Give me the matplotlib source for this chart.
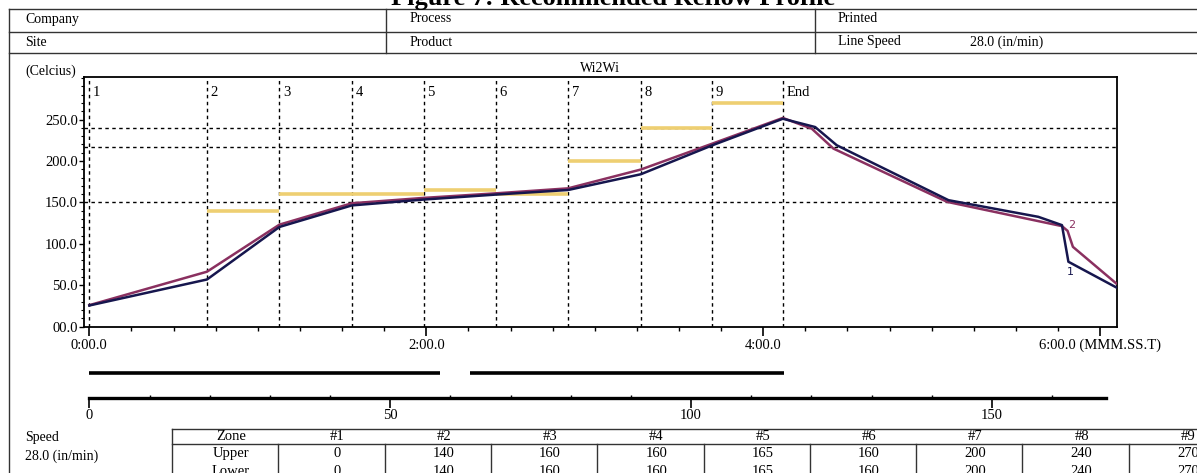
import matplotlib
matplotlib.use("Agg")
import matplotlib.pyplot as plt
from matplotlib.lines import Line2D
from matplotlib.ticker import FixedLocator, MultipleLocator, FuncFormatter

# ---------------------------------------------------------------------------
# Reflow oven profile data
# ---------------------------------------------------------------------------
zone_names = ["1", "2", "3", "4", "5", "6", "7", "8", "9", "End"]
zone_start_s = [0, 41.9, 67.7, 93.5, 119.2, 144.9, 170.5, 196.4, 221.9, 247.0]
upper_sp = [0, 140, 160, 160, 165, 160, 200, 240, 270]
lower_sp = [0, 140, 160, 160, 165, 160, 200, 240, 270]
limit_lines = [150, 217, 240]

# probe 1 (dark blue) and probe 2 (maroon): time in s, temperature in C
t1 = [0, 41.9, 67.7, 93.5, 119.2, 144.9, 170.5, 196.4, 221.9, 247.0,
      258.5, 266.2, 306.0, 338.0, 346.4, 348.7, 365.7]
T1 = [25.6, 57, 120.4, 146.4, 153.5, 159.5, 165, 184, 219, 251,
      241, 219, 152.7, 132.6, 122.6, 78.4, 47.5]
t2 = [0, 41.9, 67.7, 93.5, 119.2, 144.9, 170.5, 196.4, 221.9, 247.0,
      257.3, 265.0, 305.5, 346.4, 348.4, 350.3, 365.7]
T2 = [26, 66.4, 123.2, 149, 155.5, 161, 167, 189.7, 221, 252,
      239, 215, 150.7, 121.4, 115.7, 96.4, 52.3]

line_speed = 28.0  # in/min
heater_start_in = [0, 63.3]
heater_end_in = [58.2, 115.5]
belt_end_in = 169

table_cols = ["Zone", "#1", "#2", "#3", "#4", "#5", "#6", "#7", "#8", "#9"]

W, H = 1197, 473
NAVY = "#16164e"
MAROON = "#8a3060"
GOLD = "#eecf72"
LINE = "#333333"

plt.rcParams["font.family"] = ["Liberation Serif", "DejaVu Serif"]

fig = plt.figure(figsize=(W / 100, H / 100), dpi=100)


def hline(y, x0, x1, **kw):
    fig.add_artist(Line2D([x0 / W, x1 / W], [1 - y / H, 1 - y / H],
                          color=LINE, lw=1, **kw))


def vline(x, y0, y1, **kw):
    fig.add_artist(Line2D([x / W, x / W], [1 - y0 / H, 1 - y1 / H],
                          color=LINE, lw=1, **kw))


def ftext(x, y, s, **kw):
    kw.setdefault("fontsize", 10)
    kw.setdefault("va", "center")
    fig.text(x / W, 1 - y / H, s, **kw)


# title (clipped at the top edge in the original print)
ftext(613, 5, "Figure 7: Recommended Reflow Profile", va="baseline",
      ha="center", fontsize=19, fontweight="bold")

# header box
for y in (9, 32, 53):
    hline(y, 9, W)
vline(9, 9, H)
vline(386, 9, 53)
vline(815, 9, 53)
ftext(25, 19, "Company")
ftext(25, 42, "Site")
ftext(410, 19, "Process")
ftext(410, 42, "Product")
ftext(838, 19, "Printed")
ftext(838, 42, "Line Speed")
ftext(970, 42, f"{line_speed:.1f} (in/min)")
ftext(25, 71, "(Celcius)")
ftext(600, 68, "Wi2Wi", ha="center")

# ---------------------------------------------------------------------------
# main temperature plot
# ---------------------------------------------------------------------------
x0, x1, y_top, y_bot = 84.3, 1116.7, 76.5, 326.7
ax = fig.add_axes([x0 / W, 1 - y_bot / H, (x1 - x0) / W, (y_bot - y_top) / H])
ax.set_xlim(-1.8, 365.9)
ax.set_ylim(0, 302)

dash = (0, (2.5, 2.5))
for t in zone_start_s:
    ax.axvline(t, color="k", lw=1, ls=dash, zorder=1)
for v in limit_lines:
    ax.axhline(v, color="k", lw=1, ls=dash, zorder=1)

for i, sp in enumerate(upper_sp):
    if sp > 0:
        ax.hlines(sp, zone_start_s[i], zone_start_s[i + 1], color=GOLD,
                  lw=2.6, zorder=2)

ax.plot(t2, T2, color=MAROON, lw=1.8, zorder=3)
ax.plot(t1, T1, color=NAVY, lw=1.8, zorder=4)
ax.text(349.5, 66, "1", color=NAVY, fontsize=8, ha="center", va="center",
        family="DejaVu Sans")
ax.text(349.8, 123, "2", color=MAROON, fontsize=8, ha="center", va="center",
        family="DejaVu Sans")

for t, name in zip(zone_start_s, zone_names):
    ax.annotate(name, xy=(t, 1), xycoords=ax.get_xaxis_transform(),
                xytext=(2.5, -11.7), textcoords="offset points",
                ha="left", va="center", fontsize=10.5)


def fmt_time(v, _):
    s = f"{int(v) // 60}:{v % 60:04.1f}"
    return s + " (MMM.SS.T)" if v == 360 else s


ax.xaxis.set_major_locator(FixedLocator([0, 120, 240, 360]))
ax.xaxis.set_minor_locator(MultipleLocator(15))
ax.xaxis.set_major_formatter(FuncFormatter(fmt_time))
ax.yaxis.set_major_locator(FixedLocator([0, 50, 100, 150, 200, 250]))
ax.yaxis.set_minor_locator(MultipleLocator(10))
ax.yaxis.set_major_formatter(FuncFormatter(lambda v, _: f"{v:04.1f}"))
ax.tick_params(axis="x", which="major", length=6.5, width=1.2, pad=2,
               labelsize=10.5)
ax.tick_params(axis="x", which="minor", length=3, width=1)
ax.tick_params(axis="y", which="major", length=3.6, width=1, pad=1,
               labelsize=10.5)
ax.tick_params(axis="y", which="minor", length=2, width=0.8)
for sp in ax.spines.values():
    sp.set_linewidth(1.3)

# ---------------------------------------------------------------------------
# conveyor distance axis (inches)
# ---------------------------------------------------------------------------
d_top, d_bot = 365, 397.5
axd = fig.add_axes([x0 / W, 1 - d_bot / H, (x1 - x0) / W, (d_bot - d_top) / H])
sec_to_in = line_speed / 60.0
axd.set_xlim(-1.8 * sec_to_in, 365.9 * sec_to_in)
axd.set_ylim(0, 1)
axd.hlines([0.75] * len(heater_start_in), heater_start_in, heater_end_in,
           color="k", lw=2.6)
for side in ("top", "left", "right"):
    axd.spines[side].set_visible(False)
axd.spines["bottom"].set_bounds(0, belt_end_in)
axd.spines["bottom"].set_linewidth(2.4)
axd.set_yticks([])
axd.xaxis.set_major_locator(FixedLocator([0, 50, 100, 150]))
axd.xaxis.set_minor_locator(FixedLocator(list(range(0, belt_end_in, 10))))
axd.xaxis.set_major_formatter(FuncFormatter(lambda v, _: f"{v:g}"))
axd.tick_params(axis="x", which="major", length=7, width=1.2, pad=1.5,
                labelsize=10.5)
axd.tick_params(axis="x", which="minor", length=2.5, width=1, direction="in")
axd.patch.set_visible(False)

# ---------------------------------------------------------------------------
# zone set-point table
# ---------------------------------------------------------------------------
tl, cw, t_top, t_sep = 172, 106.3, 429, 444
ftext(25, 437, "Speed")
ftext(25, 456, f"{line_speed:.1f} (in/min)")
hline(t_top, tl, W)
hline(t_sep, tl, W)
vline(tl, t_top, H)
for i in range(1, len(table_cols)):
    vline(tl + i * cw, t_sep, H)
rows = [table_cols, ["Upper"] + [str(v) for v in upper_sp],
        ["Lower"] + [str(v) for v in lower_sp]]
for row, y in zip(rows, (436, 453.5, 471)):
    for i, s in enumerate(row):
        ftext(tl + (i + 0.5) * cw + 6, y, s, ha="center", fontsize=10.5)

fig.savefig("out.png", dpi=100)
